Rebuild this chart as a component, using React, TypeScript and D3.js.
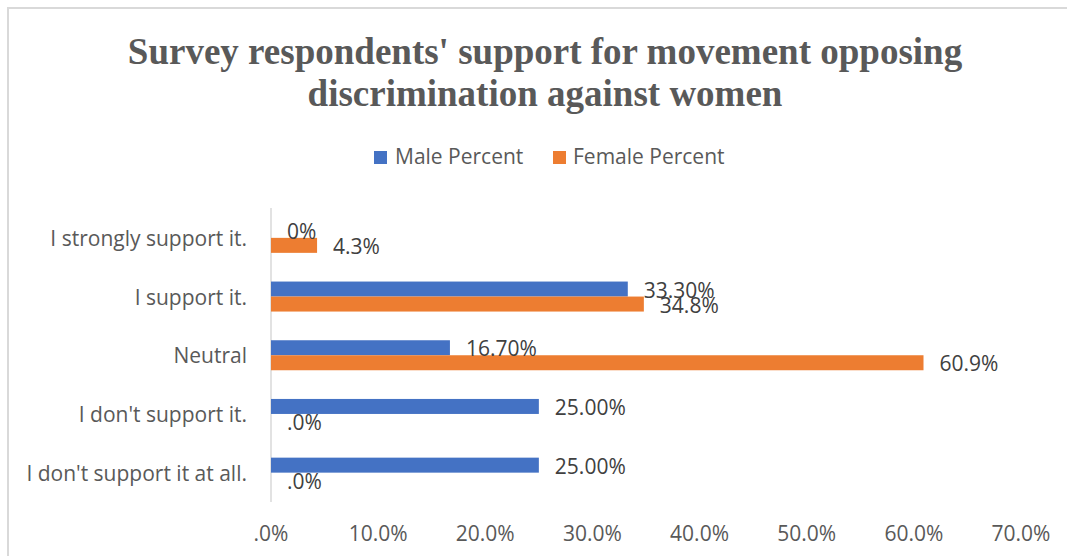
import React from "react";
import * as d3 from "d3";

const categories = [
  "I strongly support it.",
  "I support it.",
  "Neutral",
  "I don't support it.",
  "I don't support it at all.",
];
const maleValues = [0, 33.3, 16.7, 25.0, 25.0];
const femaleValues = [4.3, 34.8, 60.9, 0, 0];
const xTicks = [0, 10, 20, 30, 40, 50, 60, 70];
const seriesNames = ["Male Percent", "Female Percent"];
const colors = ["#4472C4", "#ED7D31"];
const titleLines = [
  "Survey respondents' support for movement opposing",
  "discrimination against women",
];

const W = 1067;
const H = 556;

const fmtTick = (v: number) => (v === 0 ? ".0%" : v.toFixed(1) + "%");
const fmtMale = (v: number) => (v === 0 ? "0%" : v.toFixed(2) + "%");
const fmtFemale = (v: number) => (v === 0 ? ".0%" : v.toFixed(1) + "%");

export default function App() {
  const x = d3.scaleLinear().domain([0, 70]).range([271, 1021]);
  const y = d3.scaleBand<string>().domain(categories).range([208.5, 502]).padding(0);
  const barH = 15;
  const sans = "'Open Sans', sans-serif";
  const fs = 21;
  const labelColor = "#404040";
  const axisTextColor = "#595959";

  return (
    <div style={{ position: "absolute", left: 0, top: 0 }}>
      <svg width={W} height={H} style={{ display: "block", background: "#fff" }}>
        <rect x={8} y={8} width={1100} height={600} fill="#fff" stroke="#d9d9d9" strokeWidth={2} />
        {titleLines.map((t, i) => (
          <text
            key={i}
            x={545}
            y={64 + i * 42}
            textAnchor="middle"
            fontFamily="'Liberation Serif', 'Times New Roman', serif"
            fontWeight="bold"
            fontSize={37}
            fill="#595959"
          >
            {t}
          </text>
        ))}

        {/* legend */}
        <g fontFamily={sans} fontSize={fs} fill={axisTextColor}>
          <rect x={374} y={151} width={13} height={13} fill={colors[0]} />
          <text x={395} y={164}>{seriesNames[0]}</text>
          <rect x={553} y={151} width={13} height={13} fill={colors[1]} />
          <text x={573} y={164}>{seriesNames[1]}</text>
        </g>

        {/* axis line */}
        <line x1={x(0)} x2={x(0)} y1={208} y2={502} stroke="#d9d9d9" strokeWidth={1.5} />

        {/* bars */}
        {categories.map((c, i) => {
          const cy = (y(c) as number) + y.bandwidth() / 2;
          return (
            <g key={c}>
              <rect x={x(0)} y={cy - barH} width={x(maleValues[i]) - x(0)} height={barH} fill={colors[0]} />
              <rect x={x(0)} y={cy} width={x(femaleValues[i]) - x(0)} height={barH} fill={colors[1]} />
              <text
                x={x(maleValues[i]) + 16}
                y={cy - barH / 2 + 8.5}
                fontFamily={sans}
                fontSize={fs}
                fill={labelColor}
              >
                {fmtMale(maleValues[i])}
              </text>
              <text
                x={x(femaleValues[i]) + 16}
                y={cy + barH / 2 + 8.5}
                fontFamily={sans}
                fontSize={fs}
                fill={labelColor}
              >
                {fmtFemale(femaleValues[i])}
              </text>
              <text
                x={247}
                y={cy + 8}
                textAnchor="end"
                fontFamily={sans}
                fontSize={fs}
                fill={axisTextColor}
              >
                {c}
              </text>
            </g>
          );
        })}

        {/* x tick labels */}
        {xTicks.map((t) => (
          <text
            key={t}
            x={x(t)}
            y={541}
            textAnchor="middle"
            fontFamily={sans}
            fontSize={fs}
            fill={axisTextColor}
          >
            {fmtTick(t)}
          </text>
        ))}
      </svg>
    </div>
  );
}
